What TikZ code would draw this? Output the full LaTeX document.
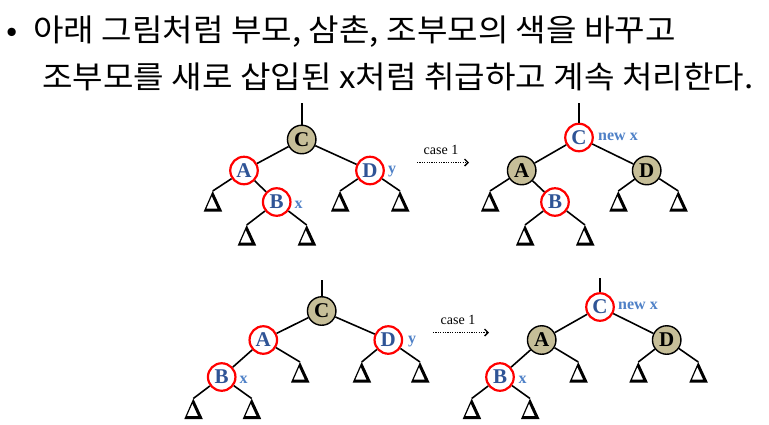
\documentclass[tikz,border=0pt]{standalone}
\usepackage{fontspec}
\setmainfont{Liberation Serif}
\newfontfamily\krfont[FakeStretch=1.07]{Noto Sans CJK KR}
\usetikzlibrary{arrows.meta}
\definecolor{nodetan}{RGB}{198,190,152}
\definecolor{letblue}{RGB}{47,84,150}
\definecolor{labblue}{RGB}{79,129,199}
\begin{document}
\begin{tikzpicture}[x=1pt,y=-1pt,
  rb/.style={circle, draw=red, line width=2.2pt, fill=white, minimum size=27.5pt, inner sep=0pt,
    font=\bfseries\fontsize{21}{21}\selectfont, text=letblue},
  bk/.style={circle, draw=black, line width=1.4pt, fill=nodetan, minimum size=28.5pt, inner sep=0pt,
    font=\bfseries\fontsize{21}{21}\selectfont, text=black},
  tri/.style={anchor=north, inner sep=0pt, minimum width=18pt, minimum height=20.5pt},
  lab/.style={anchor=west, inner sep=0pt, font=\bfseries\fontsize{16}{16}\selectfont, text=labblue},
  edg/.style={line width=1.6pt},
  casel/.style={inner sep=0pt, font=\fontsize{14}{14}\selectfont},
  darr/.style={dash pattern=on 1.1pt off 1.3pt, line width=1.1pt, -{Straight Barb[length=3.5pt,width=7pt,line width=1.3pt]}},
  kr/.style={anchor=base west, inner sep=0pt, font=\krfont\fontsize{31}{31}\selectfont}
]
\path[use as bounding box] (0,0) rectangle (769,424);

% title
\node[kr] (bul) at (6,41) {•};
\node[kr] (l1) at (33,41) {아래 그림처럼 부모, 삼촌, 조부모의 색을 바꾸고};
\node[kr] (l2) at (42,88) {조부모를 새로 삽입된 x처럼 취급하고 계속 처리한다.};

% ---------- top left ----------
\coordinate (r1) at (301.7,103);
\node[bk] (C1) at (301.7,139.5) {C};
\node[rb] (A1) at (244,170.5) {A};
\node[rb] (D1) at (370,170.5) {D};
\node[rb] (B1) at (276.7,202) {B};
\node[lab] (y1) at (388,172) {y};
\node[lab] (x1) at (294.5,205) {x};
\node[tri] (a1l) at (212.7,191) {};
\node[tri] (b1l) at (246.7,225) {};
\node[tri] (b1r) at (306.7,225) {};
\node[tri] (d1l) at (340,191) {};
\node[tri] (d1r) at (400,191) {};
\draw[edg] (r1) -- (C1);
\draw[edg] (C1) -- (A1);
\draw[edg] (C1) -- (D1);
\draw[edg] (A1) -- (a1l.north);
\draw[edg] (A1) -- (B1);
\draw[edg] (B1) -- (b1l.north);
\draw[edg] (B1) -- (b1r.north);
\draw[edg] (D1) -- (d1l.north);
\draw[edg] (D1) -- (d1r.north);

% arrow 1
\node[casel] (c1) at (441,150) {case 1};
\coordinate (s1) at (417,162.5);
\coordinate (e1) at (469,162.5);
\draw[darr] (s1) -- (e1);

% ---------- top right ----------
\coordinate (r2) at (579,103);
\node[rb] (C2) at (579,137.5) {C};
\node[rb] (B2) at (555,202) {B};
\node[bk] (A2) at (521.7,170.5) {A};
\node[bk] (D2) at (646.7,170.5) {D};
\node[lab] (n2) at (598,137) {new x};
\node[tri] (a2l) at (490,191) {};
\node[tri] (b2l) at (525,225) {};
\node[tri] (b2r) at (585,225) {};
\node[tri] (d2l) at (618.3,191) {};
\node[tri] (d2r) at (678.3,191) {};
\draw[edg] (r2) -- (C2);
\draw[edg] (C2) -- (A2);
\draw[edg] (C2) -- (D2);
\draw[edg] (A2) -- (a2l.north);
\draw[edg] (A2) -- (B2);
\draw[edg] (B2) -- (b2l.north);
\draw[edg] (B2) -- (b2r.north);
\draw[edg] (D2) -- (d2l.north);
\draw[edg] (D2) -- (d2r.north);

% ---------- bottom left ----------
\coordinate (r3) at (321.7,280);
\node[bk] (C3) at (321.7,311) {C};
\node[rb] (A3) at (263.3,340) {A};
\node[rb] (D3) at (388.3,340) {D};
\node[rb] (B3) at (221.7,377) {B};
\node[lab] (y3) at (408,342) {y};
\node[lab] (x3) at (239.5,379.5) {x};
\node[tri] (a3r) at (300,362) {};
\node[tri] (b3l) at (193.3,398.5) {};
\node[tri] (b3r) at (251.7,398.5) {};
\node[tri] (d3l) at (361.7,362) {};
\node[tri] (d3r) at (420,362) {};
\draw[edg] (r3) -- (C3);
\draw[edg] (C3) -- (A3);
\draw[edg] (C3) -- (D3);
\draw[edg] (A3) -- (B3);
\draw[edg] (A3) -- (a3r.north);
\draw[edg] (B3) -- (b3l.north);
\draw[edg] (B3) -- (b3r.north);
\draw[edg] (D3) -- (d3l.north);
\draw[edg] (D3) -- (d3r.north);

% arrow 2
\node[casel] (c2) at (458,320) {case 1};
\coordinate (s2) at (433,332.5);
\coordinate (e2) at (489,332.5);
\draw[darr] (s2) -- (e2);

% ---------- bottom right ----------
\coordinate (r4) at (600,278);
\node[rb] (C4) at (600,307) {C};
\node[bk] (A4) at (541.7,340) {A};
\node[bk] (D4) at (666.7,340) {D};
\node[rb] (B4) at (500,377) {B};
\node[lab] (n4) at (618,306) {new x};
\node[lab] (x4) at (518.5,379.5) {x};
\node[tri] (a4r) at (578.3,362) {};
\node[tri] (b4l) at (471.7,398.5) {};
\node[tri] (b4r) at (530,398.5) {};
\node[tri] (d4l) at (638.3,362) {};
\node[tri] (d4r) at (698.3,362) {};
\draw[edg] (r4) -- (C4);
\draw[edg] (C4) -- (A4);
\draw[edg] (C4) -- (D4);
\draw[edg] (A4) -- (B4);
\draw[edg] (A4) -- (a4r.north);
\draw[edg] (B4) -- (b4l.north);
\draw[edg] (B4) -- (b4r.north);
\draw[edg] (D4) -- (d4l.north);
\draw[edg] (D4) -- (d4r.north);

% bold delta glyphs
\foreach \t in {a1l,b1l,b1r,d1l,d1r,a2l,b2l,b2r,d2l,d2r,a3r,b3l,b3r,d3l,d3r,a4r,b4l,b4r,d4l,d4r}{
  \fill[even odd rule, shift={(\t.north)}]
    (0,0) -- (-9,20.5) -- (9.5,20.5) -- cycle
    (-0.93,5.1) -- (-6.37,17.5) -- (4.8,17.5) -- cycle;
}
\end{tikzpicture}
\end{document}
